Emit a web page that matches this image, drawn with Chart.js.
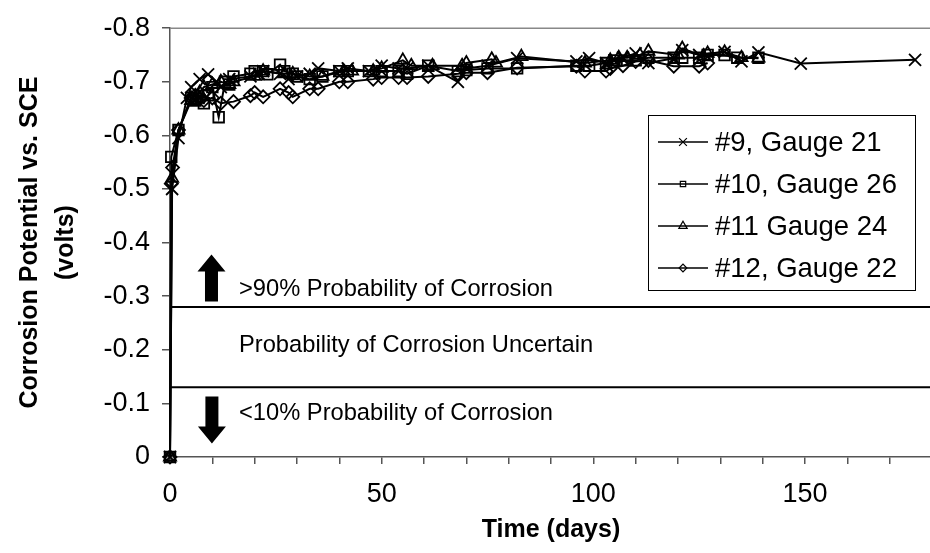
<!DOCTYPE html>
<html lang="en">
<head>
<meta charset="UTF-8">
<title>Corrosion Potential vs. Time</title>
<style>
  html, body { margin: 0; padding: 0; background: #fff; overflow: hidden; }
  .wrap { position: relative; width: 946px; height: 553px; }
</style>
</head>
<body>
<div class="wrap"><canvas id="chart" width="946" height="553"></canvas></div>
<script src="https://cdn.jsdelivr.net/npm/chart.js"></script>
<script>
// #9, Gauge 21
const days9 = [0, 0.5, 2, 4, 5, 7, 9, 11, 12, 14, 19, 21, 22, 26, 28, 30, 33, 35, 40, 42, 47, 50, 54, 56, 61, 68, 70, 75, 82, 96, 99, 103, 105, 107, 110, 113, 119, 121, 125, 131, 135, 139, 149, 176];
const volts9 = [0, -0.50, -0.595, -0.67, -0.69, -0.705, -0.714, -0.70, -0.69, -0.705, -0.71, -0.715, -0.72, -0.715, -0.705, -0.71, -0.715, -0.725, -0.72, -0.725, -0.72, -0.73, -0.725, -0.725, -0.73, -0.70, -0.725, -0.73, -0.744, -0.738, -0.744, -0.735, -0.74, -0.745, -0.753, -0.735, -0.744, -0.759, -0.75, -0.756, -0.738, -0.755, -0.734, -0.741];

// #10, Gauge 26
const days10 = [0, 0.3, 2, 5, 6, 8, 9, 10, 11.5, 13, 14, 15, 19, 20, 22, 23, 26, 27, 29, 30, 33, 36, 40, 42, 47, 50, 54, 56, 61, 68, 70, 75, 82, 96, 99, 103, 105, 108, 110, 113, 119, 121, 125, 127, 131, 134, 139];
const volts10 = [0, -0.56, -0.61, -0.67, -0.665, -0.66, -0.675, -0.69, -0.634, -0.70, -0.695, -0.71, -0.715, -0.72, -0.72, -0.714, -0.732, -0.72, -0.715, -0.71, -0.705, -0.71, -0.72, -0.72, -0.72, -0.72, -0.72, -0.715, -0.73, -0.72, -0.722, -0.725, -0.725, -0.73, -0.73, -0.735, -0.74, -0.74, -0.74, -0.745, -0.745, -0.745, -0.745, -0.75, -0.75, -0.745, -0.745];

// #11 Gauge 24
const days11 = [0, 0.5, 2, 5, 6, 7, 8, 10, 12, 14, 15, 20, 22, 27, 29, 33, 36, 41, 43, 48, 50, 55, 57, 62, 69, 70, 76, 77, 83, 98, 104, 106, 108, 111, 113, 120, 121, 126, 127, 131, 135, 139];
const volts11 = [0, -0.52, -0.61, -0.665, -0.67, -0.68, -0.69, -0.695, -0.70, -0.695, -0.70, -0.71, -0.72, -0.715, -0.715, -0.71, -0.71, -0.72, -0.72, -0.72, -0.725, -0.74, -0.73, -0.73, -0.73, -0.735, -0.742, -0.735, -0.747, -0.735, -0.74, -0.745, -0.745, -0.75, -0.757, -0.75, -0.762, -0.748, -0.753, -0.755, -0.745, -0.744];

// #12, Gauge 22
const days12 = [0, 0.3, 0.6, 2, 5, 6, 7, 8, 10, 12, 15, 19, 20, 22, 26, 28, 29, 33, 35, 40, 42, 48, 50, 54, 56, 61, 68, 70, 75, 82, 96, 98, 103, 104, 107, 110, 113, 119, 125, 127];
const volts12 = [0, -0.51, -0.54, -0.61, -0.67, -0.675, -0.67, -0.665, -0.67, -0.66, -0.663, -0.674, -0.68, -0.672, -0.687, -0.68, -0.672, -0.687, -0.687, -0.70, -0.70, -0.705, -0.708, -0.708, -0.708, -0.71, -0.715, -0.717, -0.717, -0.726, -0.729, -0.72, -0.72, -0.725, -0.73, -0.738, -0.74, -0.729, -0.729, -0.735];

const seriesNames = ['#9, Gauge 21', '#10, Gauge 26', '#11 Gauge 24', '#12, Gauge 22'];

// corrosion probability limits (volts vs SCE)
const limits = [-0.28, -0.13];

// axis labels
const xTickLabels = [0, 50, 100, 150];
const yTickLabels = ['-0.8', '-0.7', '-0.6', '-0.5', '-0.4', '-0.3', '-0.2', '-0.1', '0'];

// notes inside the plot, in data units
const noteTexts = ['>90% Probability of Corrosion', 'Probability of Corrosion Uncertain', '<10% Probability of Corrosion'];
const noteDay = 16.3;
const noteVolts = [-0.313, -0.208, -0.082];
const arrowDays = [9.8, 9.9];
const arrowFrom = [-0.29, -0.113];
const arrowTo = [-0.378, -0.025];

const X_MAX = 180;
const FONT = '"Liberation Sans", Arial, Helvetica, sans-serif';

Chart.defaults.font.family = FONT;
Chart.defaults.color = '#000';

function toPoints(xs, ys) {
    return xs.map((x, i) => ({ x: x, y: ys[i] }));
}

function gauge(label, xs, ys, style, radius) {
    return {
        label: label,
        data: toPoints(xs, ys),
        borderColor: '#000',
        borderWidth: 2,
        pointStyle: style,
        pointRadius: radius,
        pointBorderColor: '#000',
        pointBackgroundColor: 'rgba(0,0,0,0)',
        pointBorderWidth: 1.8,
        tension: 0,
        clip: false
    };
}

function limitLine(v) {
    return {
        label: '',
        data: [{ x: 0, y: v }, { x: X_MAX, y: v }],
        borderColor: '#000',
        borderWidth: 2,
        pointRadius: 0,
        tension: 0
    };
}

const datasets = [
    gauge(seriesNames[0], days9, volts9, 'crossRot', 8.5),
    gauge(seriesNames[1], days10, volts10, 'rect', 7.5),
    gauge(seriesNames[2], days11, volts11, 'triangle', 7),
    gauge(seriesNames[3], days12, volts12, 'rectRot', 6.5),
    limitLine(limits[0]),
    limitLine(limits[1])
];

const legendRadius = [5.5, 3.8, 4.8, 3.8];

// border, notes, arrows and the boxed legend
const decor = {
    id: 'decor',
    afterDraw(chart) {
        const { ctx, chartArea: a, scales } = chart;
        const x = scales.x, y = scales.y;
        ctx.save();

        // top edge of plot area
        ctx.strokeStyle = '#888';
        ctx.lineWidth = 1.5;
        ctx.beginPath();
        ctx.moveTo(a.left, a.top);
        ctx.lineTo(a.right, a.top);
        ctx.stroke();

        // notes
        ctx.fillStyle = '#000';
        ctx.font = '23.7px ' + FONT;
        ctx.textAlign = 'left';
        ctx.textBaseline = 'middle';
        noteTexts.forEach((t, i) => {
            ctx.fillText(t, x.getPixelForValue(noteDay), y.getPixelForValue(noteVolts[i]));
        });

        // block arrows
        arrowDays.forEach((d, i) => {
            const px = x.getPixelForValue(d);
            const y0 = y.getPixelForValue(arrowFrom[i]);
            const y1 = y.getPixelForValue(arrowTo[i]);
            const dir = Math.sign(y1 - y0);
            const head = 17, half = 14, shaft = 6.5;
            const yh = y1 - dir * head;
            ctx.beginPath();
            ctx.moveTo(px - shaft, y0);
            ctx.lineTo(px - shaft, yh);
            ctx.lineTo(px - half, yh);
            ctx.lineTo(px, y1);
            ctx.lineTo(px + half, yh);
            ctx.lineTo(px + shaft, yh);
            ctx.lineTo(px + shaft, y0);
            ctx.closePath();
            ctx.fill();
        });

        // legend box
        const lx = 648, ly = 115, lw = 267, lh = 175;
        ctx.fillStyle = '#fff';
        ctx.fillRect(lx, ly, lw, lh);
        ctx.strokeStyle = '#000';
        ctx.lineWidth = 1;
        ctx.strokeRect(lx + 0.5, ly + 0.5, lw, lh);

        ctx.font = '27.5px ' + FONT;
        for (let i = 0; i < 4; i++) {
            const ds = chart.data.datasets[i];
            const yy = ly + 27 + i * 42;
            ctx.strokeStyle = '#000';
            ctx.lineWidth = 1.5;
            ctx.beginPath();
            ctx.moveTo(lx + 10, yy);
            ctx.lineTo(lx + 60, yy);
            ctx.stroke();
            ctx.fillStyle = 'rgba(0,0,0,0)';
            ctx.lineWidth = 1.2;
            Chart.helpers.drawPoint(ctx, {
                pointStyle: ds.pointStyle,
                radius: legendRadius[i],
                rotation: 0,
                borderWidth: 1.2
            }, lx + 35, yy);
            ctx.fillStyle = '#000';
            ctx.fillText(ds.label, lx + 67, yy + 1);
        }
        ctx.restore();
    }
};

new Chart(document.getElementById('chart'), {
    type: 'line',
    data: { datasets: datasets },
    options: {
        responsive: false,
        animation: false,
        layout: { padding: { top: 18, right: 4, left: 0, bottom: 0 } },
        plugins: {
            legend: { display: false },
            tooltip: { enabled: false }
        },
        scales: {
            x: {
                type: 'linear',
                min: 0,
                max: X_MAX,
                ticks: {
                    stepSize: 10,
                    autoSkip: false,
                    includeBounds: false,
                    maxRotation: 0,
                    padding: 14,
                    font: { size: 27 },
                    callback: v => xTickLabels.includes(v) ? String(v) : ''
                },
                grid: { drawOnChartArea: false, drawTicks: true, tickLength: 7, color: '#555', lineWidth: 1.5 },
                border: { color: '#555', width: 1.5 },
                title: {
                    display: true,
                    text: 'Time (days)',
                    font: { size: 25, weight: 'bold' },
                    padding: { top: 0, bottom: 8 }
                },
                afterFit: s => { s.height = 96; }
            },
            y: {
                type: 'linear',
                reverse: true,
                min: -0.8,
                max: 0,
                ticks: {
                    stepSize: 0.1,
                    padding: 12,
                    font: { size: 27 },
                    callback: v => yTickLabels.find(t => Math.abs(Number(t) - v) < 1e-6) || ''
                },
                grid: { drawOnChartArea: false, drawTicks: true, tickLength: 8, color: '#555', lineWidth: 1.5 },
                border: { color: '#555', width: 1.5 },
                title: {
                    display: true,
                    text: ['Corrosion Potential vs. SCE', '(volts)'],
                    font: { size: 25, weight: 'bold', lineHeight: 1.44 },
                    padding: { top: 12, bottom: 0 }
                },
                afterFit: s => { s.width = 170; }
            }
        }
    },
    plugins: [decor]
});
</script>
</body>
</html>
